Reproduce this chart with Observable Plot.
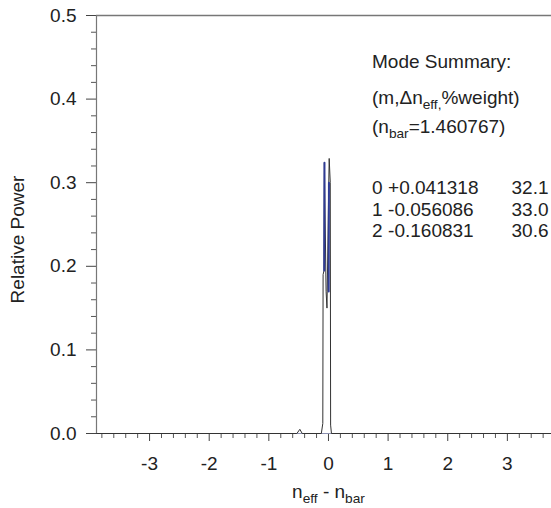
<!DOCTYPE html>
<html>
<head>
<meta charset="utf-8">
<script src="https://cdn.jsdelivr.net/npm/d3@7"></script>
<script src="https://cdn.jsdelivr.net/npm/@observablehq/plot@0.6"></script>
<style>
  html, body { margin: 0; padding: 0; background: #fff; }
  #chart { width: 551px; height: 508px; }
</style>
</head>
<body>
<div id="chart"></div>
<script>
// ---- data ----
const xDomain = [-3.89, 3.74];
const yDomain = [0, 0.5];
const xMajorTicks = [-3, -2, -1, 0, 1, 2, 3];
const yMajorTicks = [0, 0.1, 0.2, 0.3, 0.4, 0.5];

// total spectrum (black outline)
const specX = [-3.89, -0.53, -0.48, -0.44, -0.12, -0.095, -0.09, -0.075, -0.068, -0.04, -0.025, 0.005, 0.012, 0.03, 0.036, 0.05, 3.74];
const specY = [0, 0, 0.005, 0, 0, 0.012, 0.19, 0.195, 0.324, 0.17, 0.15, 0.30, 0.329, 0.30, 0.01, 0, 0];

// mode traces (blue)
const modeId = ["a", "a", "b", "b"];
const modeX = [-0.071, -0.067, 0.004, 0.008];
const modeY = [0.195, 0.324, 0.17, 0.30];

// summary text
const summaryHead = ["Mode Summary:", "(m,Δn_{eff,}%weight)", "(n_{bar}=1.460767)"];
const summaryHeadY = [0.444, 0.402, 0.367];
const modeNums = ["0", "1", "2"];
const modeDn = ["+0.041318", "-0.056086", "-0.160831"];
const modeWeight = ["32.1", "33.0", "30.6"];
const modeRowY = [0.294, 0.268, 0.242];

// ---- build ----
const spec = specX.map((x, i) => ({x, y: specY[i]}));
const modes = modeX.map((x, i) => ({x, y: modeY[i], z: modeId[i]}));
const head = summaryHead.map((t, i) => ({t, y: summaryHeadY[i]}));
const rows = modeNums.map((m, i) => ({m, dn: modeDn[i], w: modeWeight[i], y: modeRowY[i]}));

const minorX = d3.range(-38, 38, 2).map(v => v / 10).filter(v => !xMajorTicks.includes(v));
const minorY = d3.range(0, 51, 2).map(v => v / 100).filter(v => Math.abs(v * 10 - Math.round(v * 10)) > 1e-6);

const font = "'Liberation Sans', Arial, sans-serif";
const fs = 19;

const plot = Plot.plot({
  width: 551,
  height: 508,
  marginLeft: 96,
  marginRight: 0,
  marginTop: 15,
  marginBottom: 75,
  style: {fontFamily: font, fontSize: fs + "px", color: "#222", background: "#fff"},
  x: {domain: xDomain, label: null},
  y: {domain: yDomain, label: null},
  marks: [
    Plot.axisX(minorX, {tickSize: 5, text: null, label: null, stroke: "#555"}),
    Plot.axisX(xMajorTicks, {tickSize: 8, tickPadding: 15, stroke: "#444", fontSize: fs, label: null, tickFormat: d => d}),
    Plot.axisY(minorY, {tickSize: 5, text: null, label: null, stroke: "#555"}),
    Plot.axisY(yMajorTicks, {tickSize: 10, tickPadding: 10, stroke: "#444", fontSize: fs, label: null, tickFormat: d3.format(".1f")}),
    Plot.ruleY([yDomain[1]], {stroke: "#777", strokeWidth: 1.5}),
    Plot.ruleX([xDomain[0]], {stroke: "#777", strokeWidth: 1.2}),
    Plot.ruleY([0], {stroke: "#8a8fb0", strokeWidth: 1.2}),
    Plot.line(spec, {x: "x", y: "y", stroke: "#333", strokeWidth: 1}),
    Plot.line(modes, {x: "x", y: "y", z: "z", stroke: "#2f3b94", strokeWidth: 2}),
    Plot.text(head, {x: () => 0.73, y: "y", text: "t", textAnchor: "start", fontSize: fs, fill: "#222"}),
    Plot.text(rows, {x: () => 0.73, y: "y", text: "m", textAnchor: "start", fontSize: fs, fill: "#222"}),
    Plot.text(rows, {x: () => 1.0, y: "y", text: "dn", textAnchor: "start", fontSize: fs, fill: "#222"}),
    Plot.text(rows, {x: () => 3.69, y: "y", text: "w", textAnchor: "end", fontSize: fs, fill: "#222"}),
    Plot.text(["n_{eff} - n_{bar}"], {x: () => 0, frameAnchor: "bottom", lineAnchor: "middle", textAnchor: "middle", dy: 58, fontSize: fs, fill: "#222"}),
    Plot.text(["Relative Power"], {frameAnchor: "left", textAnchor: "middle", lineAnchor: "middle", dx: -79, dy: 15, rotate: -90, fontSize: fs, fill: "#222"})
  ]
});

// subscripts
d3.select(plot).selectAll("text").each(function () {
  const t = this.textContent;
  if (!t.includes("_{")) return;
  const el = d3.select(this);
  el.text(null);
  const parts = t.split(/(_\{[^}]*\})/);
  let sub = false;
  parts.forEach(p => {
    if (!p) return;
    if (p.startsWith("_{")) {
      el.append("tspan").attr("dy", 5).attr("font-size", "0.72em").text(p.slice(2, -1));
      sub = true;
    } else {
      const ts = el.append("tspan").text(p);
      if (sub) { ts.attr("dy", -5); sub = false; }
    }
  });
});

document.getElementById("chart").appendChild(plot);
</script>
</body>
</html>
